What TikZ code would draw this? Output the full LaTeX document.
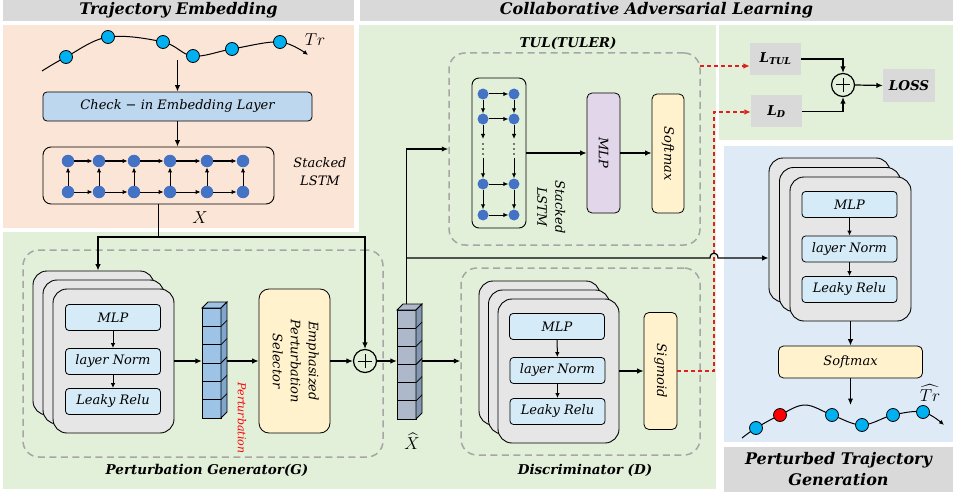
\documentclass[tikz,border=0pt]{standalone}
\usepackage{amsmath}
\usepackage{graphicx}
\usepackage{fontspec}
\setmainfont{DejaVu Serif}
\usetikzlibrary{arrows.meta}
\definecolor{salmonbg}{HTML}{FBE5D6}
\definecolor{greenbg}{HTML}{E2F0D9}
\definecolor{bluebg}{HTML}{DEEBF7}
\definecolor{hgray}{HTML}{D9D9D9}
\definecolor{embblue}{HTML}{BDD7EE}
\definecolor{cardgray}{HTML}{E7E6E6}
\definecolor{iblue}{HTML}{D5EBF7}
\definecolor{ylw}{HTML}{FFF2CC}
\definecolor{purp}{HTML}{E2D6EA}
\definecolor{dblue}{HTML}{4472C4}
\definecolor{tcyan}{HTML}{00B0F0}
\definecolor{dred}{HTML}{E0201C}
\definecolor{dgray}{HTML}{A6A6A6}
\definecolor{vblue}{HTML}{9DC3E6}
\definecolor{vblueD}{HTML}{7FA6CF}
\definecolor{vgray}{HTML}{ADB9CA}
\definecolor{vgrayD}{HTML}{8497B0}
\newcommand{\myfs}{\fontsize{13}{16}\selectfont\itshape}
\newcommand{\hdrfs}{\fontsize{16}{21}\selectfont\bfseries\itshape}
\newcommand{\lblfs}{\fontsize{13.5}{16}\selectfont\bfseries\itshape}
\renewcommand{\arraystretch}{1.12}
\begin{document}
\begin{tikzpicture}[x=1pt,y=-1pt,
 ln/.style={line width=1.2pt},
 arr/.style={line width=1.2pt,-{Latex[length=6.5pt,width=5.5pt]}},
 arrs/.style={line width=1pt,-{Latex[length=5pt,width=4.5pt]}},
 rdash/.style={line width=1.2pt,draw=dred,dash pattern=on 4pt off 3pt,-{Latex[length=6.5pt,width=5.5pt]}},
 gdash/.style={draw=dgray,line width=1.5pt,dash pattern=on 7pt off 4.5pt,rounded corners=16pt,inner sep=0},
 card/.style={draw,line width=0.9pt,fill=cardgray,rounded corners=14pt,minimum width=121pt,minimum height=144pt,inner sep=0},
 ibox/.style={draw,line width=0.8pt,fill=iblue,rounded corners=3.5pt,minimum width=95pt,minimum height=26pt,inner sep=0,font=\myfs},
 ybox/.style={draw,line width=0.8pt,fill=ylw,rounded corners=5pt,inner sep=0,font=\myfs},
 hdr/.style={fill=hgray,inner sep=0,font=\hdrfs},
 lbox/.style={fill=hgray,inner sep=0,minimum width=51pt,minimum height=32pt,font=\lblfs},
 ldot/.style={circle,fill=dblue,minimum size=12.5pt,inner sep=0},
 sdot/.style={circle,fill=dblue,minimum size=11pt,inner sep=0},
 tdot/.style={circle,draw,line width=0.8pt,fill=tcyan,minimum size=13pt,inner sep=0},
 lbl/.style={font=\lblfs,inner sep=0},
 txt/.style={font=\myfs,inner sep=0},
 opl/.style={circle,draw,line width=1.2pt,minimum size=23pt,inner sep=0}]
% backgrounds
\fill[white] (0,0) rectangle (953,492);
\useasboundingbox (0,0) rectangle (953,492);
\fill[greenbg] (3,25) rectangle (716,489);
\fill[white] (0,22) rectangle (359,232);
\fill[salmonbg] (3,25) rectangle (354,228);
\fill[greenbg] (719,25) rectangle (953,140);
\fill[bluebg] (724,146) rectangle (953,442);
% headers
\node[hdr,minimum width=351pt,minimum height=21pt] (h1) at (178.5,10.5) {Trajectory Embedding};
\node[hdr,minimum width=593pt,minimum height=21pt] (h2) at (656.5,10.5) {Collaborative Adversarial Learning};
\node[hdr,minimum width=229pt,minimum height=45pt,align=center] (h3) at (838.5,469.5) {Perturbed Trajectory\\Generation};

% ---------- Trajectory embedding ----------
\coordinate (ta0) at (42,71);
\coordinate (ta1) at (66,57);
\coordinate (ta2) at (108,37);
\coordinate (ta3) at (163,42);
\coordinate (ta4) at (193,56);
\coordinate (ta5) at (232,49);
\coordinate (ta6) at (280,42);
\coordinate (ta7) at (308,55);
\draw[arrs] plot[smooth,tension=0.6] coordinates {(ta0) (ta1) (ta2) (ta3) (ta4) (ta5) (ta6) (ta7)};
\foreach \i in {1,...,6} \node[tdot] (tc\i) at (ta\i) {};
\node[txt,font=\fontsize{17}{20}\selectfont] (trl) at (315,40) {$Tr$};

\node[draw,fill=embblue,rounded corners=4pt,line width=0.8pt,minimum width=269pt,minimum height=29pt,inner sep=0,font=\myfs] (emb) at (177.5,106.5) {Check − in Embedding Layer};
\coordinate (tin) at (177.5,60);
\draw[arr] (tin) -- (emb.north);
\node[draw,rounded corners=8pt,line width=0.9pt,minimum width=231pt,minimum height=57pt,inner sep=0] (lstmA) at (158.5,175.5) {};
\draw[arr] (emb.south) -- (emb.south |- lstmA.north);
\foreach \x [count=\i] in {68,99,134,170,207,243} {
  \node[ldot] (u\i) at (\x,161) {};
  \node[ldot] (l\i) at (\x,192) {};
}
\foreach \i/\j in {1/2,2/3,3/4,4/5,5/6} {\draw[arrs] (u\i) -- (u\j); \draw[arrs] (l\i) -- (l\j);}
\foreach \i in {1,...,6} \draw[arrs] (l\i) -- (u\i);
\node[txt,align=center,font=\fontsize{13}{18}\selectfont\itshape] (slA) at (320,172) {Stacked\\LSTM};
\node[txt,font=\fontsize{17}{20}\selectfont] (Xl) at (200,218) {$X$};

% ---------- Perturbation generator ----------
\node[gdash,minimum width=360pt,minimum height=207pt] (Gbox) at (203,353.5) {};
\node[lbl] (Gl) at (207,470) {Perturbation Generator(G)};
\node[card] (gb1) at (93.5,343) {};
\node[card] (gb2) at (103.5,352) {};
\node[card] (gb3) at (113.5,361) {};
\node[ibox] (gm) at (113,317.5) {MLP};
\node[ibox] (gn) at (113,361.5) {layer Norm};
\node[ibox] (gr) at (113,401.5) {Leaky Relu};
\draw[arrs] (gm) -- (gn);
\draw[arrs] (gn) -- (gr);
% perturbation vector
\node[inner sep=0,minimum width=19pt,minimum height=110pt] (pvec) at (211.5,363) {};
\foreach \i in {0,...,5} \draw[fill=vblue,line width=0.8pt] (202,{308+18.333*\i}) rectangle (221,{326.333+18.333*\i});
\draw[fill=vblue,line width=0.8pt] (202,308) -- (208,302) -- (227,302) -- (221,308) -- cycle;
\draw[fill=vblueD,line width=0.8pt] (221,308) -- (227,302) -- (227,412) -- (221,418) -- cycle;
\foreach \i in {1,...,5} \draw[line width=0.8pt] (221,{308+18.333*\i}) -- (227,{302+18.333*\i});
\node[text=red,inner sep=0] (plbl) at (242,418) {\rotatebox{-90}{\fontsize{11}{13}\selectfont\itshape Perturbation}};
\node[ybox,rounded corners=10pt,minimum width=71pt,minimum height=144pt] (emph) at (294.5,361) {\rotatebox{-90}{\begin{tabular}{@{}c@{}}Emphasized\\Perturbation\\Selector\end{tabular}}};
\node[opl] (op1) at (365,361) {};
\draw[line width=1pt] ([xshift=-7pt]op1.center) -- ([xshift=7pt]op1.center);
\draw[line width=1pt] ([yshift=-7pt]op1.center) -- ([yshift=7pt]op1.center);
\coordinate (pvR) at (227,361);
\draw[arr] (gb3.east) -- (pvec.west |- gb3.east);
\draw[arr] (pvR) -- (emph.west |- pvR);
\draw[arr] (emph.east) -- (op1.west);
% X to generator and plus
\coordinate (j1) at (158.5,237);
\coordinate (j2) at (98,237);
\draw[ln] (lstmA.south) -- (j1);
\draw[arr] (j1) -- (j2) -- (j2 |- gb1.north);
\draw[arr] (j1) -- (op1 |- j1) -- (op1.north);

% ---------- X hat ----------
\node[inner sep=0,minimum width=19pt,minimum height=109pt] (xhat) at (406.5,364.5) {};
\foreach \i in {0,...,5} \draw[fill=vgray,line width=0.8pt] (397,{310+18.167*\i}) rectangle (416,{328.167+18.167*\i});
\draw[fill=vgray,line width=0.8pt] (397,310) -- (403,304) -- (422,304) -- (416,310) -- cycle;
\draw[fill=vgrayD,line width=0.8pt] (416,310) -- (422,304) -- (422,413) -- (416,419) -- cycle;
\foreach \i in {1,...,5} \draw[line width=0.8pt] (416,{310+18.167*\i}) -- (422,{304+18.167*\i});
\node[txt,font=\fontsize{16}{19}\selectfont] (Xh) at (412,441) {$\widehat{X}$};
\draw[arr] (op1.east) -- (xhat.west |- op1);

% ---------- TUL ----------
\node[gdash,minimum width=251pt,minimum height=192pt] (Tbox) at (574.5,149) {};
\node[lbl] (Tl) at (568,43) {TUL(TULER)};
\node[draw,rounded corners=7pt,line width=0.9pt,minimum width=54pt,minimum height=150pt,inner sep=0] (lstmT) at (499,153) {};
\foreach \y [count=\i] in {94,119,184,215} {
  \node[sdot] (a\i) at (483,\y) {};
  \node[sdot] (b\i) at (514,\y) {};
  \draw[arrs] (a\i) -- (b\i);
}
\foreach \c/\x in {a/483,b/514} {
  \draw[arrs] (\c1) -- (\c2);
  \draw[arrs] (\c3) -- (\c4);
  \coordinate (\c m1) at (\x,139);
  \coordinate (\c m2) at (\x,158);
  \draw[arrs] (\c2) -- (\c m1);
  \draw[arrs] (\c m2) -- (\c3);
  \fill (\x,144) circle (0.9);
  \fill (\x,149) circle (0.9);
  \fill (\x,154) circle (0.9);
}
\node[txt] (slT) at (550,207) {\rotatebox{-90}{\begin{tabular}{@{}c@{}}Stacked\\LSTM\end{tabular}}};
\node[draw,fill=purp,rounded corners=5pt,line width=0.8pt,minimum width=33pt,minimum height=120pt,inner sep=0,font=\myfs] (mlpT) at (603.5,153) {\rotatebox{-90}{MLP}};
\node[ybox,minimum width=32pt,minimum height=119pt] (smT) at (668,153.5) {\rotatebox{-90}{Softmax}};
\draw[arr] (lstmT.east) -- (mlpT.west);
\draw[arr] (mlpT.east) -- (smT.west |- mlpT.east);
\coordinate (xhT) at (406.5,304);
\draw[arr] (xhT) |- (Tbox.west);

% ---------- Discriminator ----------
\node[gdash,minimum width=239pt,minimum height=187pt] (Dbox) at (580.5,361.5) {};
\node[lbl] (Dl) at (585,470) {Discriminator (D)};
\node[card] (db1) at (539.5,353) {};
\node[card] (db2) at (549,362) {};
\node[card] (db3) at (558.5,371) {};
\node[ibox] (dm) at (557,326.5) {MLP};
\node[ibox] (dn) at (557.5,370.5) {layer Norm};
\node[ibox] (dr) at (557.5,411.5) {Leaky Relu};
\draw[arrs] (dm) -- (dn);
\draw[arrs] (dn) -- (dr);
\node[ybox,minimum width=33pt,minimum height=117pt] (sig) at (660.5,371) {\rotatebox{-90}{Sigmoid}};
\draw[arr] (db3.east) -- (sig.west);
\coordinate (xhR) at (422,361);
\draw[arr] (xhR) -- (Dbox.west |- xhR);

% ---------- Loss ----------
\node[lbox] (Ltul) at (775.5,59) {L\textsubscript{TUL}};
\node[lbox] (Ld) at (776.5,111.5) {L\textsubscript{D}};
\node[lbox,minimum width=52pt,minimum height=33pt] (loss) at (909,85.5) {LOSS};
\node[opl] (op2) at (843,85) {};
\draw[line width=1pt] ([xshift=-7pt]op2.center) -- ([xshift=7pt]op2.center);
\draw[line width=1pt] ([yshift=-7pt]op2.center) -- ([yshift=7pt]op2.center);
\draw[arr] (Ltul.east) -| (op2.north);
\draw[arr] (Ld.east) -| (op2.south);
\draw[arr] (op2.east) -- (loss.west);
\coordinate (r1) at (700,66);
\draw[rdash] (r1) -- (Ltul.west |- r1);
\coordinate (rc1) at (714,371);
\coordinate (rc2) at (714,112);
\draw[rdash] (sig.east) -- (rc1) -- (rc2) -- (Ld.west |- rc2);

% ---------- Perturbed trajectory generation ----------
\node[card] (bb1) at (829.5,230) {};
\node[card] (bb2) at (840,239.5) {};
\node[card] (bb3) at (850.5,249) {};
\node[ibox] (bm) at (849.5,204.5) {MLP};
\node[ibox] (bn) at (849.5,249) {layer Norm};
\node[ibox] (br) at (849.5,289.5) {Leaky Relu};
\draw[arrs] (bm) -- (bn);
\draw[arrs] (bn) -- (br);
\node[ybox,minimum width=144pt,minimum height=32pt] (smB) at (850.5,362) {Softmax};
\draw[arr] (bb3.south) -- (smB.north);
\coordinate (tout) at (850.5,405);
\draw[arr] (smB.south) -- (tout);
\coordinate (jb) at (406.5,258);
\draw[arr] (jb) -- (710,258) .. controls (710,251.5) and (718,251.5) .. (718,258) -- (bb1.west |- jb);

\coordinate (tb0) at (742,438);
\coordinate (tb1) at (756,428);
\coordinate (tb2) at (780,415);
\coordinate (tbp) at (805,405);
\coordinate (tb3) at (832,415);
\coordinate (tb4) at (862,425);
\coordinate (tb5) at (893,415);
\coordinate (tb6) at (923,412);
\coordinate (tb7) at (944,425);
\draw[arrs] plot[smooth,tension=0.6] coordinates {(tb0) (tb1) (tb2) (tbp) (tb3) (tb4) (tb5) (tb6) (tb7)};
\node[tdot] (pc1) at (tb1) {};
\node[tdot,fill=red] (pc2) at (tb2) {};
\foreach \i in {3,...,6} \node[tdot] (pc\i) at (tb\i) {};
\node[txt,font=\fontsize{17}{20}\selectfont] (trh) at (930,393) {$\widehat{Tr}$};
\end{tikzpicture}
\end{document}
